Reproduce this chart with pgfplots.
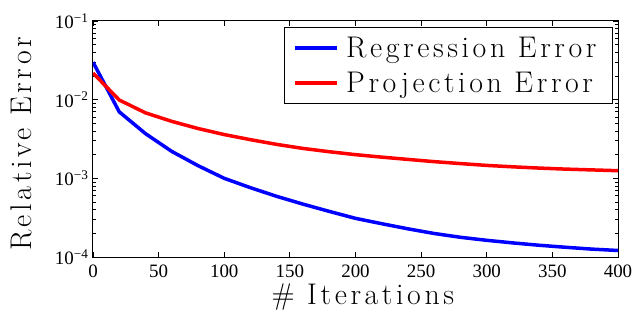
\documentclass[border=0pt]{standalone}
\usepackage{fontspec}
\usepackage{pgfplots}
\pgfplotsset{compat=1.18}
\newfontfamily\lsp[LetterSpace=12]{Latin Modern Roman}
\newfontfamily\tickfont{Liberation Serif}
\pgfplotstableread{
x y
0 0.030
20 0.0070
40 0.0037
60 0.0022
80 0.00145
100 0.0010
120 0.00076
140 0.00059
160 0.00047
180 0.00038
200 0.00031
220 0.000265
240 0.000228
260 0.000199
280 0.000178
300 0.000163
320 0.000151
340 0.000141
360 0.000133
380 0.000126
400 0.000121
}\regr
\pgfplotstableread{
x y
0 0.0218
20 0.0099
40 0.0068
60 0.0053
80 0.0043
100 0.0036
120 0.0031
140 0.0027
160 0.0024
180 0.00218
200 0.0020
220 0.00186
240 0.00174
260 0.00163
280 0.00154
300 0.00146
320 0.00140
340 0.00135
360 0.00131
380 0.00128
400 0.00125
}\proj
\begin{document}
\begin{tikzpicture}
\begin{axis}[
  scale only axis, width=525bp, height=236bp,
  xmin=0, xmax=400, ymode=log, ymin=1e-4, ymax=1e-1,
  xtick={0,50,...,400},
  ytick={1e-4,1e-3,1e-2,1e-1},
  yticklabels={10\textsuperscript{−4},10\textsuperscript{−3},10\textsuperscript{−2},10\textsuperscript{−1}},
  /pgf/number format/assume math mode=true,
  tick align=inside, major tick length=5bp, minor tick length=3bp,
  every tick/.style={black, line width=0.8bp},
  axis line style={line width=1bp},
  tick label style={font=\tickfont\fontsize{19}{20}\selectfont},
  xticklabel style={yshift=-4bp},
  yticklabel style={xshift=-1bp},
  xlabel={\# Iterations},
  ylabel={Relative Error},
  label style={font=\lsp\fontsize{30}{32}\selectfont, inner sep=0pt},
  xlabel style={at={(axis description cs:0.514,-0.17)}, anchor=center},
  ylabel style={at={(axis description cs:-0.136,0.479)}, anchor=center},
  legend style={at={(axis description cs:0.9905,0.9746)}, anchor=north east,
    font=\lsp\fontsize{30}{32}\selectfont, draw=black, line width=1bp,
    inner xsep=9bp, inner ysep=7.5bp, row sep=9bp,
    nodes={inner xsep=7bp}},
  legend cell align=left,
  legend image code/.code={\draw[#1] (0bp,0bp) -- (42bp,0bp);},
]
\addplot[blue, line width=3.5bp, line join=round] table {\regr};
\addlegendentry{Regression Error}
\addplot[red, line width=3.5bp, line join=round] table {\proj};
\addlegendentry{Projection Error}
\end{axis}
\pgfresetboundingbox
\path[use as bounding box] (current axis.south west) ++(-93bp,-54bp) rectangle ([shift={(17bp,21bp)}]current axis.north east);
\end{tikzpicture}
\end{document}
